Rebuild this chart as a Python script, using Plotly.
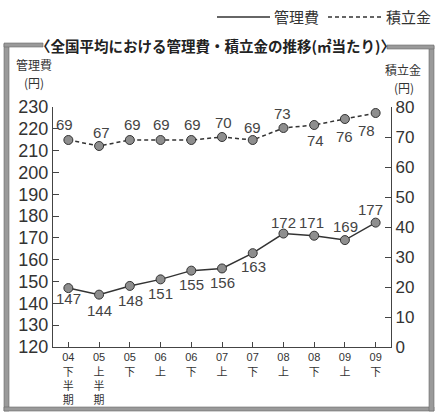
import plotly.graph_objects as go

# Half-year periods (年度 + 上/下期)
periods = ["04下半期", "05上半期", "05下", "06上", "06下", "07上",
           "07下", "08上", "08下", "09上", "09下"]
# 管理費 (円/㎡, left axis)
kanrihi = [147, 144, 148, 151, 155, 156, 163, 172, 171, 169, 177]
# 積立金 (円/㎡, right axis)
tsumitate = [69, 67, 69, 69, 69, 70, 69, 73, 74, 76, 78]

left_ticks = list(range(120, 231, 10))
right_ticks = list(range(0, 81, 10))
period_text = ["<br>".join([p[:2]] + list(p[2:])) for p in periods]

W, H = 438, 414
L, R, T, B = 53, 391, 107, 347  # plot-area edges in pixels


def px(x):
    return (x - L) / (R - L)


def py(y):
    return (B - y) / (B - T)


INK = "#333333"
LABEL = "#444444"
FONT = "Liberation Sans, Arial, sans-serif"
JP = "Noto Sans CJK JP, sans-serif"
MIXED = "Liberation Sans, Noto Sans CJK JP, sans-serif"

# value-label offsets (x, y) in pixels from each point
kanri_off = [(0, -10), (0, -16), (1, -15), (0, -14), (0, -14), (0, -14),
             (1, -13), (0, 11), (-3, 13), (1, 14), (-5, 13)]
tsumi_off = [(-4, 16), (2, 14), (3, 16), (1, 16), (1, 16), (1, 15),
             (0, 13), (-1, 15), (1, -15), (0, -17), (-9, -17)]

marker = dict(size=9, color="#8e8e8e", line=dict(color=INK, width=1))

fig = go.Figure()
fig.add_trace(go.Scatter(
    x=periods, y=kanrihi, name="管理費", yaxis="y",
    mode="lines+markers", line=dict(color=INK, width=1.5),
    marker=marker, cliponaxis=False, showlegend=False,
))
fig.add_trace(go.Scatter(
    x=periods, y=tsumitate, name="積立金", yaxis="y2",
    mode="lines+markers", line=dict(color=INK, width=1.5, dash="4px,3px"),
    marker=marker, cliponaxis=False, showlegend=False,
))

annotations = []
for p, v, (dx, dy) in zip(periods, kanrihi, kanri_off):
    annotations.append(dict(
        x=p, y=v, xref="x", yref="y", text=str(v), showarrow=False,
        xanchor="center", yanchor="middle", xshift=dx, yshift=dy,
        font=dict(family=FONT, size=15, color=LABEL)))
for p, v, (dx, dy) in zip(periods, tsumitate, tsumi_off):
    annotations.append(dict(
        x=p, y=v, xref="x", yref="y2", text=str(v), showarrow=False,
        xanchor="center", yanchor="middle", xshift=dx, yshift=dy,
        font=dict(family=FONT, size=15, color=LABEL)))


def note(x, y, text, size=14, **extra):
    font = dict(family=JP, size=size, color=extra.pop("color", INK))
    font.update(extra)
    return dict(x=px(x), y=py(y), xref="paper", yref="paper", showarrow=False,
                text=text, font=font, xanchor="center", yanchor="middle")


# title, axis captions and hand-drawn legend
annotations += [
    note(215, 45, "〈全国平均における管理費・積立金の推移(㎡当たり)〉", 14.5,
         color="#222222", weight="bold"),
    note(34, 65, "管理費", 12),
    note(34, 82.5, "(円)", 12),
    note(403, 69.5, "積立金", 12),
    note(404, 87, "(円)", 12),
    note(296, 16, "管理費", 15),
    note(408, 16, "積立金", 15),
]

FRAME = "#9a9a9a"
shapes = [
    # legend keys
    dict(type="line", xref="paper", yref="paper", x0=px(217), x1=px(270),
         y0=py(17), y1=py(17), line=dict(color=INK, width=1.3)),
    dict(type="line", xref="paper", yref="paper", x0=px(328), x1=px(383),
         y0=py(17), y1=py(17), line=dict(color=INK, width=1.3, dash="4px,3px")),
]
# gray frame around the chart, open where the title sits
for x0, y0, x1, y1 in [(4, 44, 9, 411), (4, 407, 434, 411), (429, 46, 434, 411),
                       (4, 43, 43, 47), (387, 45, 434, 49)]:
    shapes.append(dict(type="rect", xref="paper", yref="paper",
                       x0=px(x0), x1=px(x1), y0=py(y0), y1=py(y1),
                       fillcolor=FRAME, line=dict(color="#6a6a6a", width=0.6),
                       layer="below"))

fig.update_layout(
    width=W, height=H,
    margin=dict(l=L, r=W - R, t=T, b=H - B, autoexpand=False),
    paper_bgcolor="white", plot_bgcolor="white",
    font=dict(family=FONT, color=INK),
    xaxis=dict(type="category", range=[-0.5, len(periods) - 0.5],
               tickvals=periods, ticktext=period_text, automargin=False,
               showgrid=False, zeroline=False, showline=True,
               linecolor="#444444", linewidth=1.2,
               ticks="inside", ticklen=5, tickcolor="#444444",
               tickfont=dict(family=MIXED, size=11, color=INK),
               fixedrange=True),
    yaxis=dict(range=[120, 230], tickvals=left_ticks, automargin=False,
               showgrid=False, zeroline=False, showline=True,
               linecolor="#444444", linewidth=1.2,
               ticks="inside", ticklen=6, tickcolor="#444444",
               tickfont=dict(family=FONT, size=18, color=INK)),
    yaxis2=dict(range=[0, 80], tickvals=right_ticks, overlaying="y",
                side="right", automargin=False,
                showgrid=False, zeroline=False, showline=True,
                linecolor="#444444", linewidth=1.2,
                ticks="inside", ticklen=6, tickcolor="#444444",
                tickfont=dict(family=FONT, size=17, color=INK)),
    annotations=annotations,
    shapes=shapes,
)

fig.write_html("out.html")
